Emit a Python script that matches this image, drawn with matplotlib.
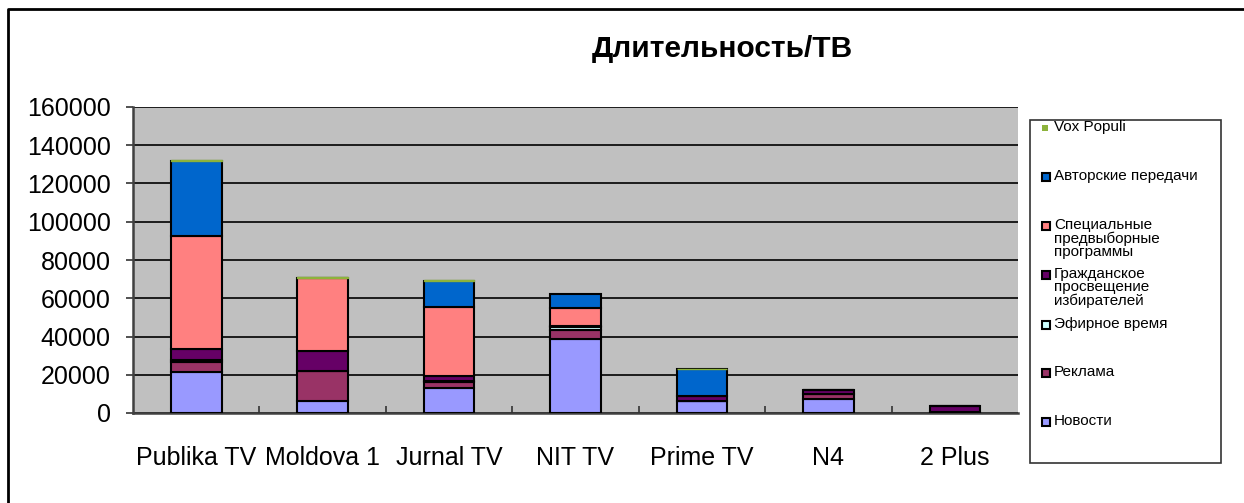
import numpy as np
import matplotlib.pyplot as plt
from matplotlib.patches import Rectangle
from matplotlib.lines import Line2D

plt.rcParams['font.family'] = ['Liberation Sans', 'DejaVu Sans']

# данные
channels = ['Publika TV', 'Moldova 1', 'Jurnal TV', 'NIT TV', 'Prime TV', 'N4', '2 Plus']
novosti = [21600, 6400, 12900, 38700, 6400, 7100, 700]
reklama = [5200, 15400, 3500, 4700, 0, 2700, 0]
efirnoe = [700, 0, 500, 1400, 0, 0, 0]
grazhd = [5800, 10500, 2500, 500, 2500, 2200, 2900]
specialnye = [59400, 38100, 36200, 9500, 0, 0, 0]
avtorskie = [39300, 0, 13400, 7400, 14000, 0, 0]
vox_populi = [500, 600, 500, 0, 300, 0, 0]

series = [novosti, reklama, efirnoe, grazhd, specialnye, avtorskie, vox_populi]
names = ['Новости', 'Реклама', 'Эфирное время',
         'Гражданское\nпросвещение\nизбирателей',
         'Специальные\nпредвыборные\nпрограммы',
         'Авторские передачи', 'Vox Populi']
colors = ['#9999FF', '#993366', '#CCFFFF', '#660066', '#FF8080', '#0066CC', '#8DB33C']

fig = plt.figure(figsize=(12.44, 5.03), dpi=100)
ax = fig.add_axes([133/1244, 90/503, 885/1244, 306/503])
ax.set_facecolor('#C0C0C0')

x = np.arange(len(channels))
bottom = np.zeros(len(channels))
for vals, c, name in zip(series, colors, names):
    vals = np.array(vals, dtype=float)
    if name == 'Vox Populi':
        ec = [c if v > 0 else 'none' for v in vals]
        ax.bar(x, vals, width=0.4, bottom=bottom, color=c, edgecolor=ec,
               linewidth=1, zorder=4)
    else:
        ax.bar(x, vals, width=0.4, bottom=bottom, color=c, edgecolor='black',
               linewidth=1.5, zorder=3)
    bottom += vals

ax.set_xlim(-0.5, len(channels) - 0.5)
ax.set_ylim(0, 160000)
ax.set_yticks(np.arange(0, 160001, 20000))
ax.yaxis.grid(True, color='black', linewidth=1.2, zorder=0)
ax.set_axisbelow(True)
ax.set_xticks(x)
ax.set_xticklabels(channels, fontsize=18)
ax.set_xticks(np.arange(0.5, len(channels) - 0.5), minor=True)
ax.tick_params(axis='x', which='major', length=0, pad=24)
ax.tick_params(axis='x', which='minor', direction='in', length=5, width=1.2, color='#333333')
ax.tick_params(axis='y', labelsize=18, length=5, width=1.2, pad=11, color='#333333')
for s in ['top', 'right']:
    ax.spines[s].set_visible(False)
for s in ['left', 'bottom']:
    ax.spines[s].set_color('#404040')
    ax.spines[s].set_linewidth(1.8)

fig.text(722/1244, 1 - 49/503, 'Длительность/ТВ', fontsize=21.5, fontweight='bold',
         ha='center', va='center')

# легенда
fig.patches.append(Rectangle((1030/1244, 1 - 463/503), 191/1244, 343/503,
                             transform=fig.transFigure, facecolor='white',
                             edgecolor='#333333', linewidth=1.2))
ys = [422, 373, 325, 275, 226, 177, 128]
for name, c, yy in zip(names, colors, ys):
    yf = 1 - yy / 503
    if name == 'Vox Populi':
        fig.patches.append(Rectangle((1042/1244, yf - 3/503), 6/1244, 6/503,
                                     transform=fig.transFigure, facecolor=c,
                                     edgecolor='none'))
    else:
        fig.patches.append(Rectangle((1042/1244, yf - 4/503), 8/1244, 8/503,
                                     transform=fig.transFigure, facecolor=c,
                                     edgecolor='black', linewidth=1.5))
    fig.text(1054/1244, yf + 8/503, name, fontsize=11, ha='left', va='top',
             linespacing=0.95)

fig.lines.append(Line2D([8/1244, 8/1244, 1], [0, 1 - 9/503, 1 - 9/503],
                        transform=fig.transFigure, color='black', linewidth=2))

fig.savefig('out.png', dpi=100)
